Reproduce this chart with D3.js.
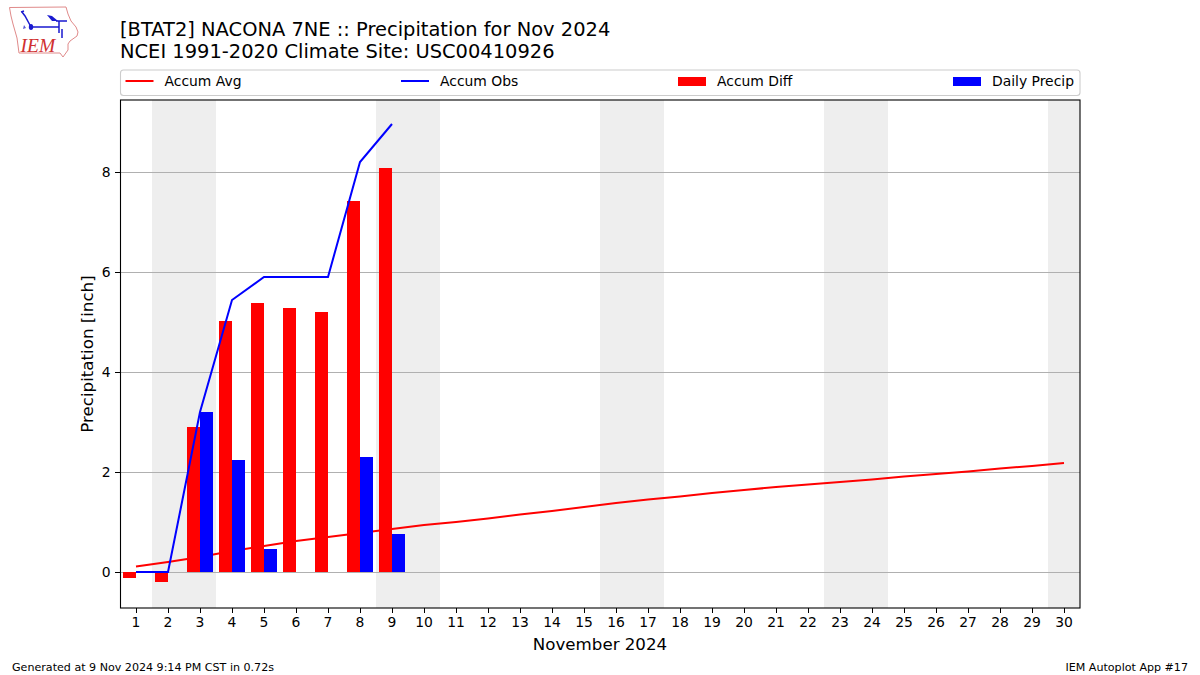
<!DOCTYPE html>
<html>
<head>
<meta charset="utf-8">
<script src="https://cdn.jsdelivr.net/npm/d3@7"></script>
<style>
    html, body {margin: 0; padding: 0; background: #fff;}
    svg {display: block;}
    text {font-family: "DejaVu Sans", sans-serif; fill: #000;}
</style>
</head>
<body>
<svg id="chart" width="1200" height="675"></svg>
<script>
const days = d3.range(1, 31);
const accumAvg = [0.11, 0.20, 0.30, 0.42, 0.52, 0.62, 0.70, 0.78, 0.86, 0.94, 1.00, 1.07, 1.15, 1.22, 1.30,
    1.38, 1.45, 1.51, 1.58, 1.64, 1.70, 1.75, 1.80, 1.85, 1.91, 1.96, 2.01, 2.07, 2.12, 2.18];
const accumObs = [0, 0, 3.20, 5.44, 5.90, 5.90, 5.90, 8.20, 8.96];
const accumDiff = [-0.11, -0.20, 2.90, 5.02, 5.38, 5.28, 5.20, 7.42, 8.08];
const dailyPrecip = [0, 0, 3.20, 2.24, 0.46, 0, 0, 2.30, 0.76];
const weekendDays = [2, 3, 9, 10, 16, 17, 23, 24, 30];
const yTicks = [0, 2, 4, 6, 8];

const margin = {top: 100, right: 120, bottom: 67, left: 120};
const width = 1200, height = 675;
const barW = 0.4;

const svg = d3.select("#chart");

const x = d3.scaleLinear().domain([0.5, 30.5]).range([margin.left, width - margin.right]);
const y = d3.scaleLinear().domain([-0.72, 9.44]).range([height - margin.bottom, margin.top]);

// weekends
svg.append("g").attr("shape-rendering", "crispEdges").selectAll("rect")
    .data(weekendDays)
    .enter().append("rect")
    .attr("x", function(d) { return x(d - 0.5) })
    .attr("width", function(d) { return x(d + 0.5) - x(d - 0.5) })
    .attr("y", y.range()[1])
    .attr("height", y.range()[0] - y.range()[1])
    .attr("fill", "#eeeeee");

// grid
svg.append("g").attr("shape-rendering", "crispEdges").selectAll("line")
    .data(yTicks)
    .enter().append("line")
    .attr("x1", x.range()[0])
    .attr("x2", x.range()[1])
    .attr("y1", function(d) { return y(d) })
    .attr("y2", function(d) { return y(d) })
    .attr("stroke", "#b0b0b0")
    .attr("stroke-width", 1);

const line = d3.line()
    .x(function(d) { return x(d.day) })
    .y(function(d) { return y(d.value) });

const toPoints = function(arr) {
    return arr.map(function(v, i) { return {day: days[i], value: v} });
};

svg.append("path")
    .attr("d", line(toPoints(accumAvg)))
    .attr("fill", "none")
    .attr("stroke", "#ff0000")
    .attr("stroke-width", 2);

// bars
const drawBars = function(arr, color, offset) {
    svg.append("g").attr("shape-rendering", "crispEdges").selectAll("rect")
        .data(toPoints(arr))
        .enter().append("rect")
        .attr("x", function(d) { return x(d.day + offset) })
        .attr("width", x(1 + barW) - x(1))
        .attr("y", function(d) { return Math.min(y(0), y(d.value)) })
        .attr("height", function(d) { return Math.abs(y(d.value) - y(0)) })
        .attr("fill", color);
};
drawBars(accumDiff, "#ff0000", -barW);
drawBars(dailyPrecip, "#0000ff", 0);

svg.append("path")
    .attr("d", line(toPoints(accumObs)))
    .attr("fill", "none")
    .attr("stroke", "#0000ff")
    .attr("stroke-width", 2);

// axes
const xAxis = svg.append("g")
    .attr("transform", "translate(0," + y.range()[0] + ")")
    .call(d3.axisBottom(x).tickValues(days).tickFormat(d3.format("d")).tickSize(4.9).tickPadding(4.5).offset(0));
const yAxis = svg.append("g")
    .attr("transform", "translate(" + x.range()[0] + ",0)")
    .call(d3.axisLeft(y).tickValues(yTicks).tickFormat(d3.format("d")).tickSize(4.9).tickPadding(4.5));

[xAxis, yAxis].forEach(function(a) {
    a.selectAll("text").style("font-size", "13.9px").style("font-family", "'DejaVu Sans', sans-serif").attr("fill", "#000");
    a.selectAll("line").attr("stroke", "#000").attr("stroke-width", 1).attr("shape-rendering", "crispEdges");
    a.select(".domain").remove();
});

svg.append("rect")
    .attr("x", x.range()[0] + 0.5)
    .attr("y", y.range()[1])
    .attr("width", x.range()[1] - x.range()[0] - 0.5)
    .attr("height", y.range()[0] - y.range()[1])
    .attr("fill", "none")
    .attr("stroke", "#000")
    .attr("stroke-width", 1.1);

// axis titles
svg.append("text")
    .attr("x", (x.range()[0] + x.range()[1]) / 2)
    .attr("y", 649.5)
    .attr("text-anchor", "middle")
    .style("font-size", "16.67px")
    .text("November 2024");

svg.append("text")
    .attr("transform", "translate(92.5,354) rotate(-90)")
    .attr("text-anchor", "middle")
    .style("font-size", "16.67px")
    .text("Precipitation [inch]");

// title
svg.append("text").attr("x", 120).attr("y", 35.5).style("font-size", "19.44px")
    .text("[BTAT2] NACONA 7NE :: Precipitation for Nov 2024");
svg.append("text").attr("x", 120).attr("y", 57.5).style("font-size", "19.44px")
    .text("NCEI 1991-2020 Climate Site: USC00410926");

// footer
svg.append("text").attr("x", 12).attr("y", 670.5).style("font-size", "11.1px")
    .text("Generated at 9 Nov 2024 9:14 PM CST in 0.72s");
svg.append("text").attr("x", 1188).attr("y", 670.5).attr("text-anchor", "end").style("font-size", "11.1px")
    .text("IEM Autoplot App #17");

// legend
const legend = svg.append("g");
legend.append("rect")
    .attr("x", 120.5).attr("y", 70)
    .attr("width", 959.5).attr("height", 25.5)
    .attr("rx", 3)
    .attr("fill", "#fff")
    .attr("stroke", "#cccccc")
    .attr("stroke-width", 1.1);

const legendItems = [
    {label: "Accum Avg", type: "line", color: "#ff0000", key: 125.5},
    {label: "Accum Obs", type: "line", color: "#0000ff", key: 401},
    {label: "Accum Diff", type: "bar", color: "#ff0000", key: 678},
    {label: "Daily Precip", type: "bar", color: "#0000ff", key: 953}
];
legendItems.forEach(function(d) {
    if (d.type === "line") {
        legend.append("line")
            .attr("x1", d.key).attr("x2", d.key + 28)
            .attr("y1", 81).attr("y2", 81)
            .attr("stroke", d.color).attr("stroke-width", 2);
    } else {
        legend.append("rect")
            .attr("x", d.key).attr("y", 77)
            .attr("width", 28).attr("height", 9)
            .attr("fill", d.color);
    }
    legend.append("text")
        .attr("x", d.key + 39).attr("y", 86)
        .style("font-size", "13.9px")
        .text(d.label);
});

// IEM logo
const logo = svg.append("g");
logo.append("path")
    .attr("d", "M9.5,7.5 L66,7 L68,14 L71,21 L76,27 L78,32 L77,36 L70,41 L68,44 L68,50 L63,57 L60,53 L19,53 L17,38 L13,24 L11,16 Z")
    .attr("fill", "none")
    .attr("stroke", "#e08a8a")
    .attr("stroke-width", 1);
logo.append("path")
    .attr("d", "M22,12 L25,16 L31,27 M31,27 L59,27 M56,21 L67,21 M59,21 L59,33 M62,29 L62,38 M21,12 L24,11")
    .attr("fill", "none")
    .attr("stroke", "#1a1ad0")
    .attr("stroke-width", 1.5);
logo.append("path")
    .attr("d", "M47,15 L52,16 L58,21 L52,21 Z")
    .attr("fill", "#1a1ad0");
logo.append("ellipse").attr("cx", 31).attr("cy", 27).attr("rx", 2.2).attr("ry", 3).attr("fill", "#1a1ad0");
logo.append("path")
    .attr("d", "M24,25 L26,28 L23,29 Z")
    .attr("fill", "#5a5ad8");
logo.append("text")
    .attr("x", 20.5).attr("y", 52)
    .style("font-family", "'Liberation Serif', serif")
    .style("font-style", "italic")
    .style("font-size", "19.5px")
    .style("fill", "#d03030")
    .text("IEM");
</script>
</body>
</html>
